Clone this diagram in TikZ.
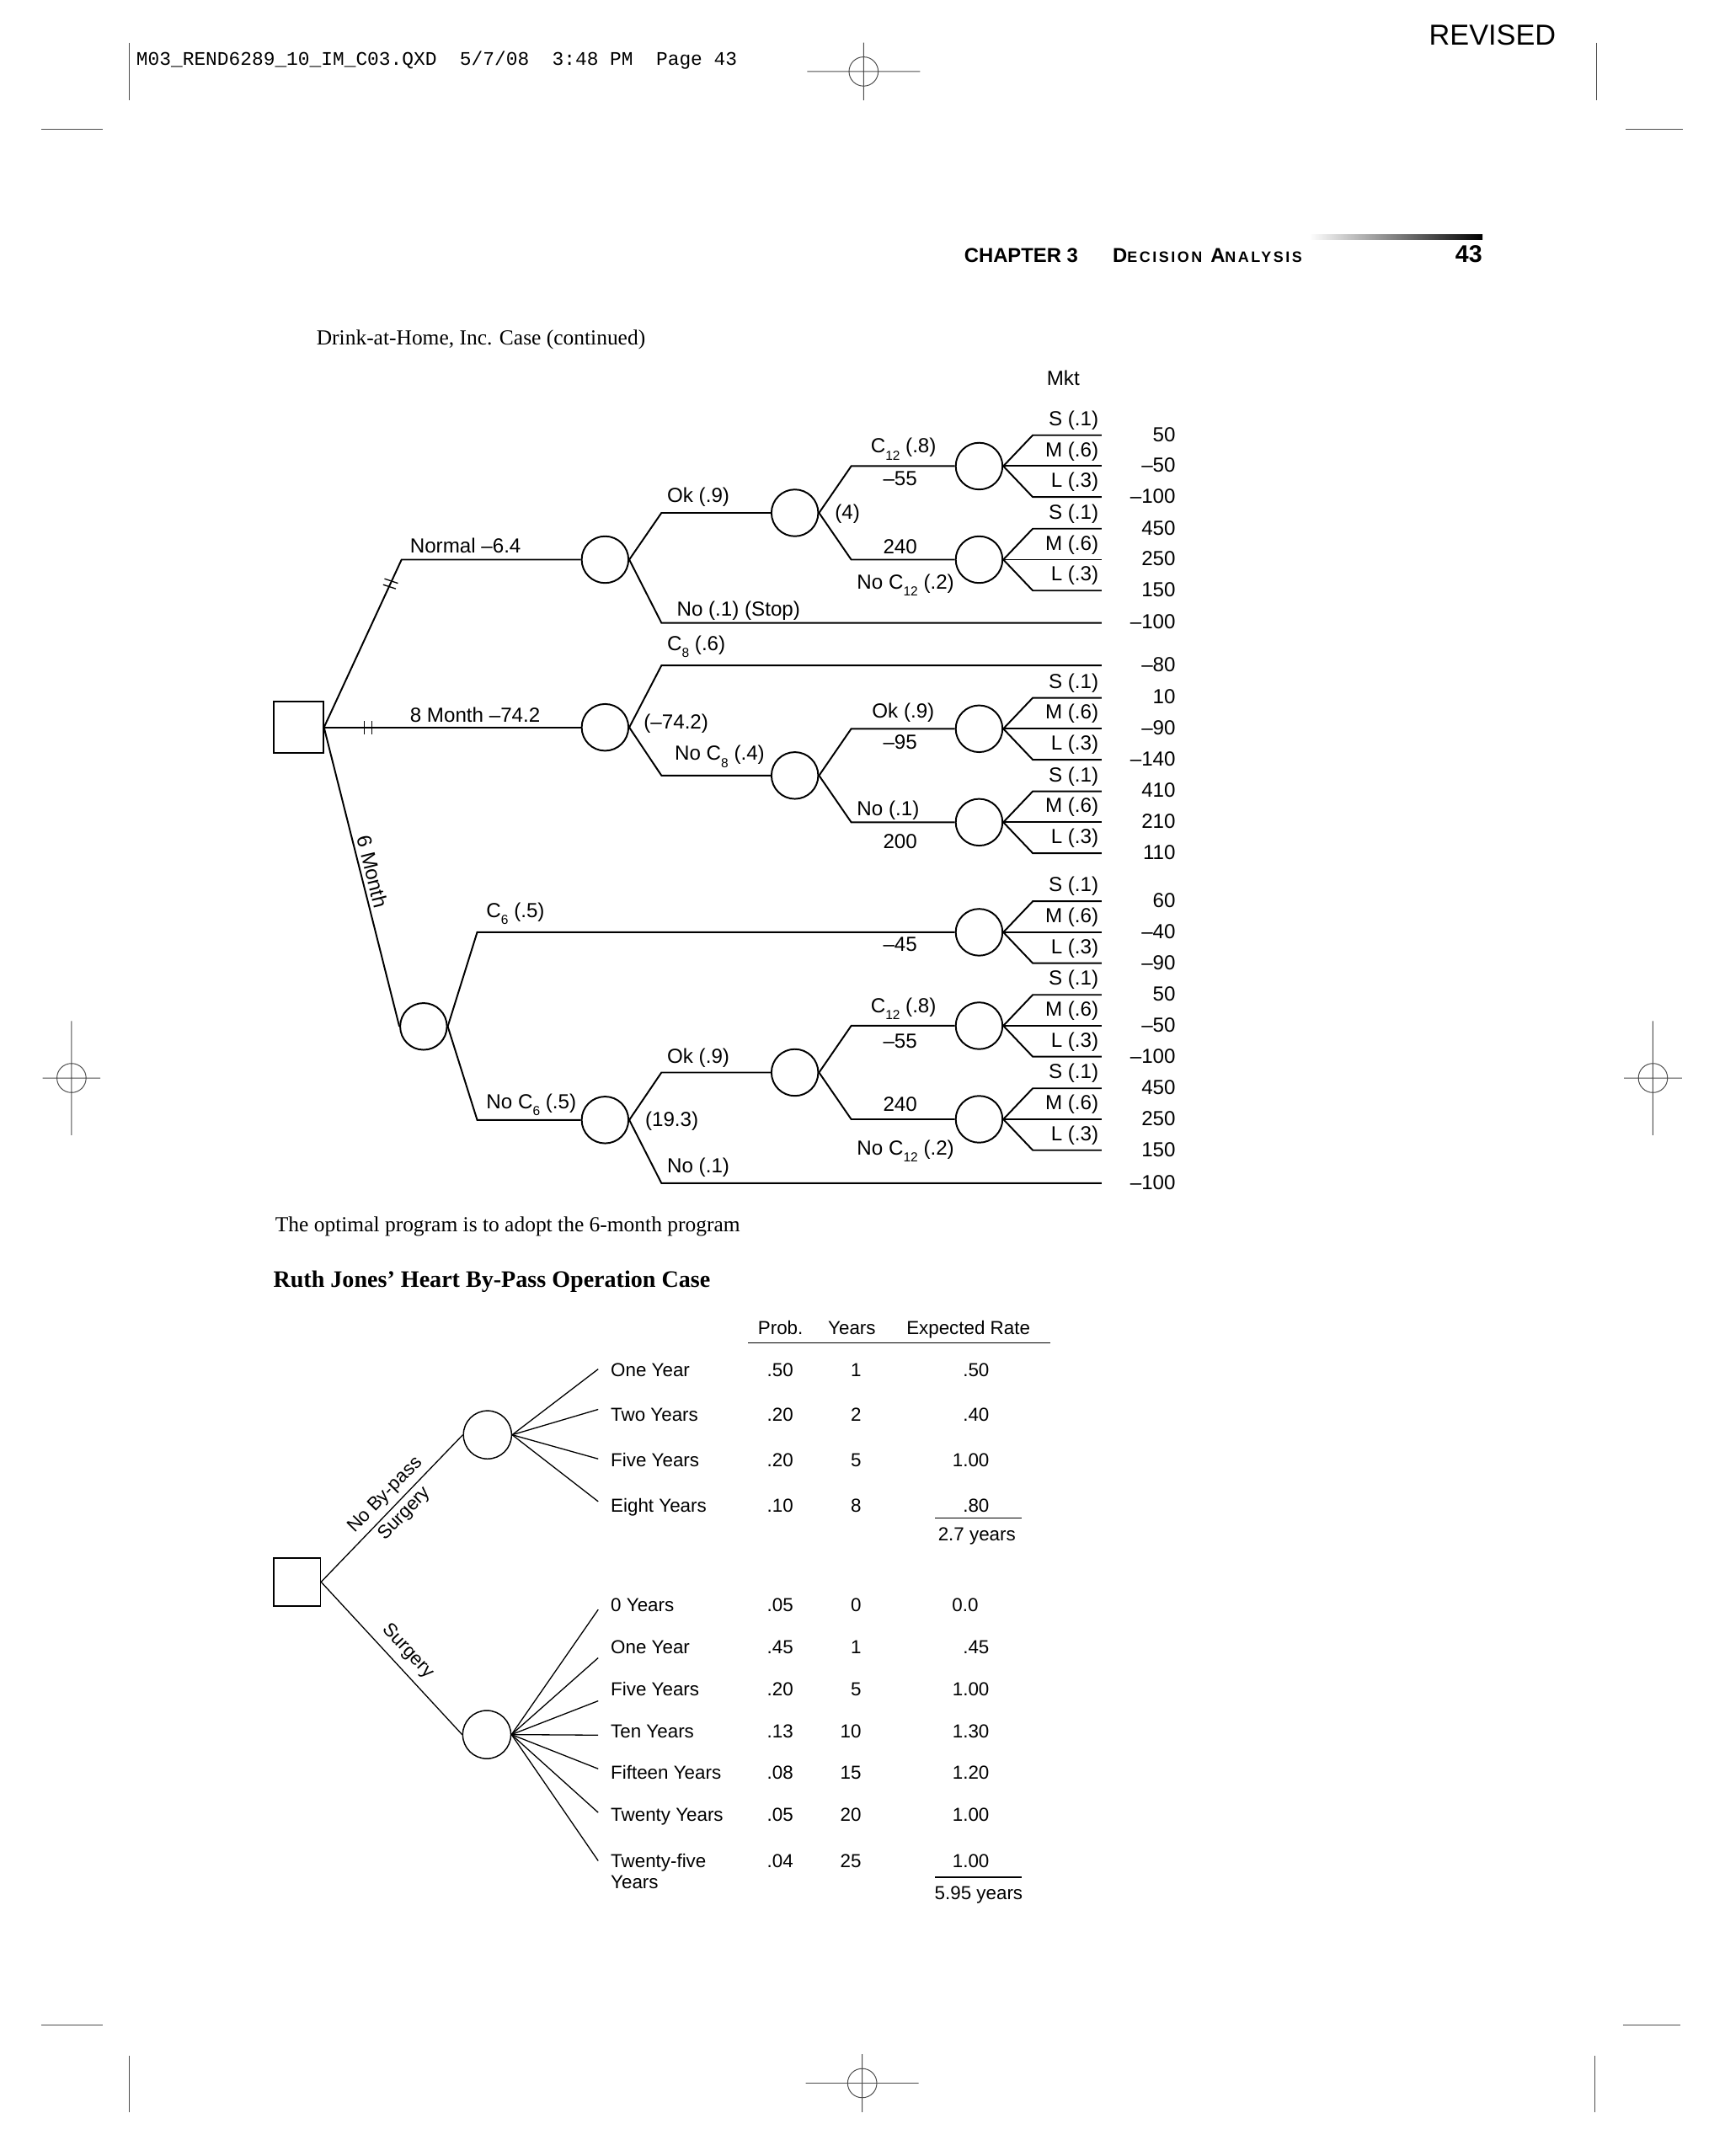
\documentclass[tikz,border=0pt]{standalone}
\usepackage{fontspec}
\setmainfont{Liberation Sans}
\newfontfamily\serifr{Liberation Serif}
\newfontfamily\monor{Liberation Mono}
\newfontfamily\decf{Liberation Sans}[LetterSpace=14]
\newcommand\lowsub[1]{\raisebox{-5pt}{\fontsize{9.5}{11}\selectfont #1}}
\tikzset{
  br/.style={line width=1.2pt},
  lbr/.style={line width=0.8pt},
  cropln/.style={line width=0.6pt, draw=black!70},
  chance/.style={circle, draw, line width=1.2pt, minimum size=34pt, inner sep=0pt},
  chancetwo/.style={circle, draw, line width=0.9pt, minimum size=35pt, inner sep=0pt},
  decbox/.style={rectangle, draw, line width=1.2pt, minimum width=36pt, minimum height=37pt, inner sep=0pt},
  decboxtwo/.style={rectangle, draw, line width=1pt, minimum width=34pt, minimum height=35pt, inner sep=0pt},
  tl/.style={font=\fontsize{14.8}{17}\selectfont, inner sep=0pt},
  bl/.style={font=\fontsize{13.7}{15.5}\selectfont, inner sep=0pt},
  sr/.style={font=\serifr\fontsize{15.6}{18}\selectfont, inner sep=0pt, anchor=base west},
}
\newcommand\mktfan[5]{%
  \node[chance] (#1) at (712,#2) {};
  \coordinate (#1s) at (751,{#2-22.5});
  \coordinate (#1se) at (801,{#2-22.5});
  \coordinate (#1me) at (801,#2);
  \coordinate (#1l) at (751,{#2+22.5});
  \coordinate (#1le) at (801,{#2+22.5});
  \draw[br] (#1.east) -- (#1s) -- (#1se);
  \draw[br] (#1.east) -- (#1me);
  \draw[br] (#1.east) -- (#1l) -- (#1le);
  \node[tl,anchor=base east] (#1ls) at (799,{#2-29.5}) {S (.1)};
  \node[tl,anchor=base east] (#1lm) at (799,{#2-7}) {M (.6)};
  \node[tl,anchor=base east] (#1ll) at (799,{#2+15.5}) {L (.3)};
  \node[tl,anchor=base east] (#1vs) at (855,{#2-18}) {#3};
  \node[tl,anchor=base east] (#1vm) at (855,{#2+4.5}) {#4};
  \node[tl,anchor=base east] (#1vl) at (855,{#2+27}) {#5};
}
\newcommand\crossHz[2]{%
  \draw[cropln] ({#1-41},#2) -- ({#1+41},#2) (#1,{#2-21}) -- (#1,{#2+21}) (#1,#2) circle[radius=10.6pt];}
\newcommand\crossVt[2]{%
  \draw[cropln] ({#1-21},#2) -- ({#1+21},#2) (#1,{#2-41.5}) -- (#1,{#2+41.5}) (#1,#2) circle[radius=10.6pt];}
\begin{document}
\begin{tikzpicture}[x=1pt,y=-1pt]
\fill[white] (0,0) rectangle (1254,1568);
\useasboundingbox (0,0) rectangle (1254,1568);

% ---------- page marks ----------
\draw[cropln] (94,31) -- (94,73) (30,94) -- (75,94);
\draw[cropln] (1161,31) -- (1161,73) (1182,94) -- (1224,94);
\draw[cropln] (94,1495) -- (94,1536) (30,1473) -- (75,1473);
\draw[cropln] (1160,1495) -- (1160,1536) (1180,1473) -- (1222,1473);
\crossHz{628}{52}
\crossHz{627}{1515}
\crossVt{52}{784}
\crossVt{1202}{784}

\node[font=\monor\fontsize{14}{16}\selectfont, anchor=base west, inner sep=0pt] (hdr) at (99,47.4) {M03\_REND6289\_10\_IM\_C03.QXD\ \ 5/7/08\ \ 3:48 PM\ \ Page 43};
\node[font=\fontsize{21}{24}\selectfont, anchor=base west, inner sep=0pt] (rev) at (1039,33) {REVISED};

\shade[left color=white, right color=black] (952,170.5) rectangle (1078,174.5);
\node[font=\bfseries\fontsize{14.6}{17}\selectfont, anchor=base west, inner sep=0pt] (chap) at (701,191) {CHAPTER 3};
\node[font=\decf\bfseries\fontsize{14.6}{17}\selectfont, anchor=base west, inner sep=0pt] (decan) at (809,191) {D{\fontsize{11}{13}\selectfont ECISION} A{\fontsize{11}{13}\selectfont NALYSIS}};
\node[font=\bfseries\fontsize{17.5}{20}\selectfont, anchor=base east, inner sep=0pt] (pg) at (1078,191) {43};

% ---------- Drink-at-Home tree ----------
\node[sr] (drink) at (230,251) {Drink-at-Home, Inc. Case (continued)};
\node[tl, anchor=base west] (mkt) at (761,280) {Mkt};

\node[decbox] (D1) at (217,529) {};
\node[chance] (N1) at (440,407) {};
\node[chance] (N2) at (440,529) {};
\node[chance] (N3) at (308,746.5) {};
\coordinate (k1) at (292,407);
\draw[br] (D1.east) -- (k1) -- (N1.west);
\draw[br] (D1.east) -- (N2.west);
\draw[br] (D1.east) -- (N3.west);
% rejection marks
\draw[line width=0.8pt] (279.6,420.9) -- (289.4,424.2) (278.6,425.2) -- (287.8,428.2);
\draw[line width=0.8pt] (264.7,524.6) -- (264.7,534.4) (270.3,524.6) -- (270.3,534.4);

\node[tl, anchor=base west] (lnorm) at (298,402) {Normal –6.4};
\node[tl, anchor=base west] (l8m) at (298,525) {8 Month –74.2};
\node[tl, rotate=-75.8] (l6m) at (271,634) {6 Month};

% Normal
\node[chance] (O1) at (578,373) {};
\coordinate (k2) at (481,373);
\coordinate (k3) at (481,453);
\coordinate (e1) at (801,453);
\draw[br] (N1.east) -- (k2) -- (O1.west);
\draw[br] (N1.east) -- (k3) -- (e1);
\mktfan{F1}{339}{50}{–50}{–100}
\mktfan{F2}{407}{450}{250}{150}
\coordinate (k4) at (619,339);
\coordinate (k5) at (619,407);
\draw[br] (O1.east) -- (k4) -- (F1.west);
\draw[br] (O1.east) -- (k5) -- (F2.west);
\node[tl, anchor=base west] (lok1) at (485,365.5) {Ok (.9)};
\node[tl, anchor=base west] (lno1) at (492,448) {No (.1) (Stop)};
\node[tl, anchor=base west] (lc12a) at (633,329.5) {C\lowsub{12} (.8)};
\node[tl, anchor=base west] (l55a) at (642,353) {–55};
\node[tl, anchor=base west] (l4) at (607,377.5) {(4)};
\node[tl, anchor=base west] (l240a) at (642,403) {240};
\node[tl, anchor=base west] (lnc12a) at (623,428.5) {No C\lowsub{12} (.2)};
\node[tl, anchor=base east] (v1) at (855,457.5) {–100};

% 8 Month
\node[chance] (O2) at (578,564) {};
\coordinate (k6) at (481,484);
\coordinate (e2) at (801,484);
\coordinate (k7) at (481,564);
\draw[br] (N2.east) -- (k6) -- (e2);
\draw[br] (N2.east) -- (k7) -- (O2.west);
\mktfan{F3}{530}{10}{–90}{–140}
\mktfan{F4}{598}{410}{210}{110}
\coordinate (k8) at (619,530);
\coordinate (k9) at (619,598);
\draw[br] (O2.east) -- (k8) -- (F3.west);
\draw[br] (O2.east) -- (k9) -- (F4.west);
\node[tl, anchor=base west] (lc8) at (485,473) {C\lowsub{8} (.6)};
\node[tl, anchor=base west] (l742) at (468,530) {(–74.2)};
\node[tl, anchor=base west] (lnc8) at (490.5,553) {No C\lowsub{8} (.4)};
\node[tl, anchor=base west] (lok2) at (634,522) {Ok (.9)};
\node[tl, anchor=base west] (l95) at (642,545) {–95};
\node[tl, anchor=base west] (lno2) at (623,593) {No (.1)};
\node[tl, anchor=base west] (l200) at (642,617) {200};
\node[tl, anchor=base east] (v2) at (855,488.5) {–80};

% 6 Month
\node[chance] (N4) at (440,814.5) {};
\node[chance] (O3) at (578,780) {};
\mktfan{F5}{678}{60}{–40}{–90}
\mktfan{F6}{746}{50}{–50}{–100}
\mktfan{F7}{814}{450}{250}{150}
\coordinate (k10) at (347,678);
\coordinate (k11) at (347,814.5);
\draw[br] (N3.east) -- (k10) -- (F5.west);
\draw[br] (N3.east) -- (k11) -- (N4.west);
\coordinate (k12) at (481,780);
\coordinate (k13) at (481,860.5);
\coordinate (e3) at (801,860.5);
\draw[br] (N4.east) -- (k12) -- (O3.west);
\draw[br] (N4.east) -- (k13) -- (e3);
\coordinate (k14) at (619,746);
\coordinate (k15) at (619,814);
\draw[br] (O3.east) -- (k14) -- (F6.west);
\draw[br] (O3.east) -- (k15) -- (F7.west);
\node[tl, anchor=base west] (lc6) at (353.5,667.5) {C\lowsub{6} (.5)};
\node[tl, anchor=base west] (l45) at (642,692) {–45};
\node[tl, anchor=base west] (lnc6) at (353.5,806.5) {No C\lowsub{6} (.5)};
\node[tl, anchor=base west] (l193) at (469,819) {(19.3)};
\node[tl, anchor=base west] (lok3) at (485,773) {Ok (.9)};
\node[tl, anchor=base west] (lno3) at (485,853) {No (.1)};
\node[tl, anchor=base west] (lc12b) at (633,736.7) {C\lowsub{12} (.8)};
\node[tl, anchor=base west] (l55b) at (642,762) {–55};
\node[tl, anchor=base west] (l240b) at (642,808.4) {240};
\node[tl, anchor=base west] (lnc12b) at (623,840) {No C\lowsub{12} (.2)};
\node[tl, anchor=base east] (v3) at (855,865) {–100};

\node[sr] (optimal) at (200,896) {The optimal program is to adopt the 6-month program};

% ---------- Ruth Jones tree ----------
\node[font=\serifr\bfseries\fontsize{17.2}{20}\selectfont, anchor=base west, inner sep=0pt] (ruth) at (198.6,936) {Ruth Jones’ Heart By-Pass Operation Case};

\node[bl, anchor=base west] (hprob) at (551,970.6) {Prob.};
\node[bl, anchor=base west] (hyears) at (602,970.6) {Years};
\node[bl, anchor=base west] (hexp) at (659,970.6) {Expected Rate};
\draw[lbr] (544,976.5) -- (764,976.5);

\node[decboxtwo] (D2) at (216,1150.5) {};
\node[chancetwo] (C1) at (354.5,1043.5) {};
\node[chancetwo] (C2) at (354,1261.5) {};
\draw[lbr] (D2.east) -- (C1.west);
\draw[lbr] (D2.east) -- (C2.west);
\node[bl, rotate=45.7] (nobp) at (280.3,1087.5) {No By-pass};
\node[bl, rotate=45.7] (nobps) at (294.3,1101.1) {Surgery};
\node[bl, rotate=-46.9] (surg) at (296.5,1201) {Surgery};

\foreach \n/\y in {a/995.7, b/1025, c/1061, d/1092}
  {\coordinate (u\n) at (435,\y); \draw[lbr] (C1.east) -- (u\n);}
\foreach \n/\y in {a/1170.6, b/1205.7, c/1237, d/1261.9, e/1286.4, f/1318.2, g/1353.3}
  {\coordinate (w\n) at (435,\y); \draw[lbr] (C2.east) -- (w\n);}

\foreach \n/\y/\t/\p/\yr/\e/\ex in {
  ua/1001.2/One Year/.50/1/.50/719.5,
  ub/1033.7/Two Years/.20/2/.40/719.5,
  uc/1066.5/Five Years/.20/5/1.00/719.5,
  ud/1099.6/Eight Years/.10/8/.80/719.5,
  la/1172.2/0 Years/.05/0/0.0/711.6,
  lb/1202.7/One Year/.45/1/.45/719.5,
  lc/1233.3/Five Years/.20/5/1.00/719.5,
  ld/1264/Ten Years/.13/10/1.30/719.5,
  le/1294.1/Fifteen Years/.08/15/1.20/719.5,
  lf/1324.7/Twenty Years/.05/20/1.00/719.5,
  lg/1358.4/Twenty-five/.04/25/1.00/719.5}
{
  \node[bl, anchor=base west] (t\n) at (444,\y) {\t};
  \node[bl, anchor=base east] (p\n) at (577,\y) {\p};
  \node[bl, anchor=base east] (y\n) at (626.5,\y) {\yr};
  \node[bl, anchor=base east] (e\n) at (\ex,\y) {\e};
}
\node[bl, anchor=base west] (tlg2) at (444,1373.7) {Years};

\draw[lbr] (680,1104) -- (743,1104);
\node[bl, anchor=base west] (sum1) at (682,1120.6) {2.7 years};
\draw[lbr] (680,1365.2) -- (743,1365.2);
\node[bl, anchor=base west] (sum2) at (679.5,1381.5) {5.95 years};
\end{tikzpicture}
\end{document}
